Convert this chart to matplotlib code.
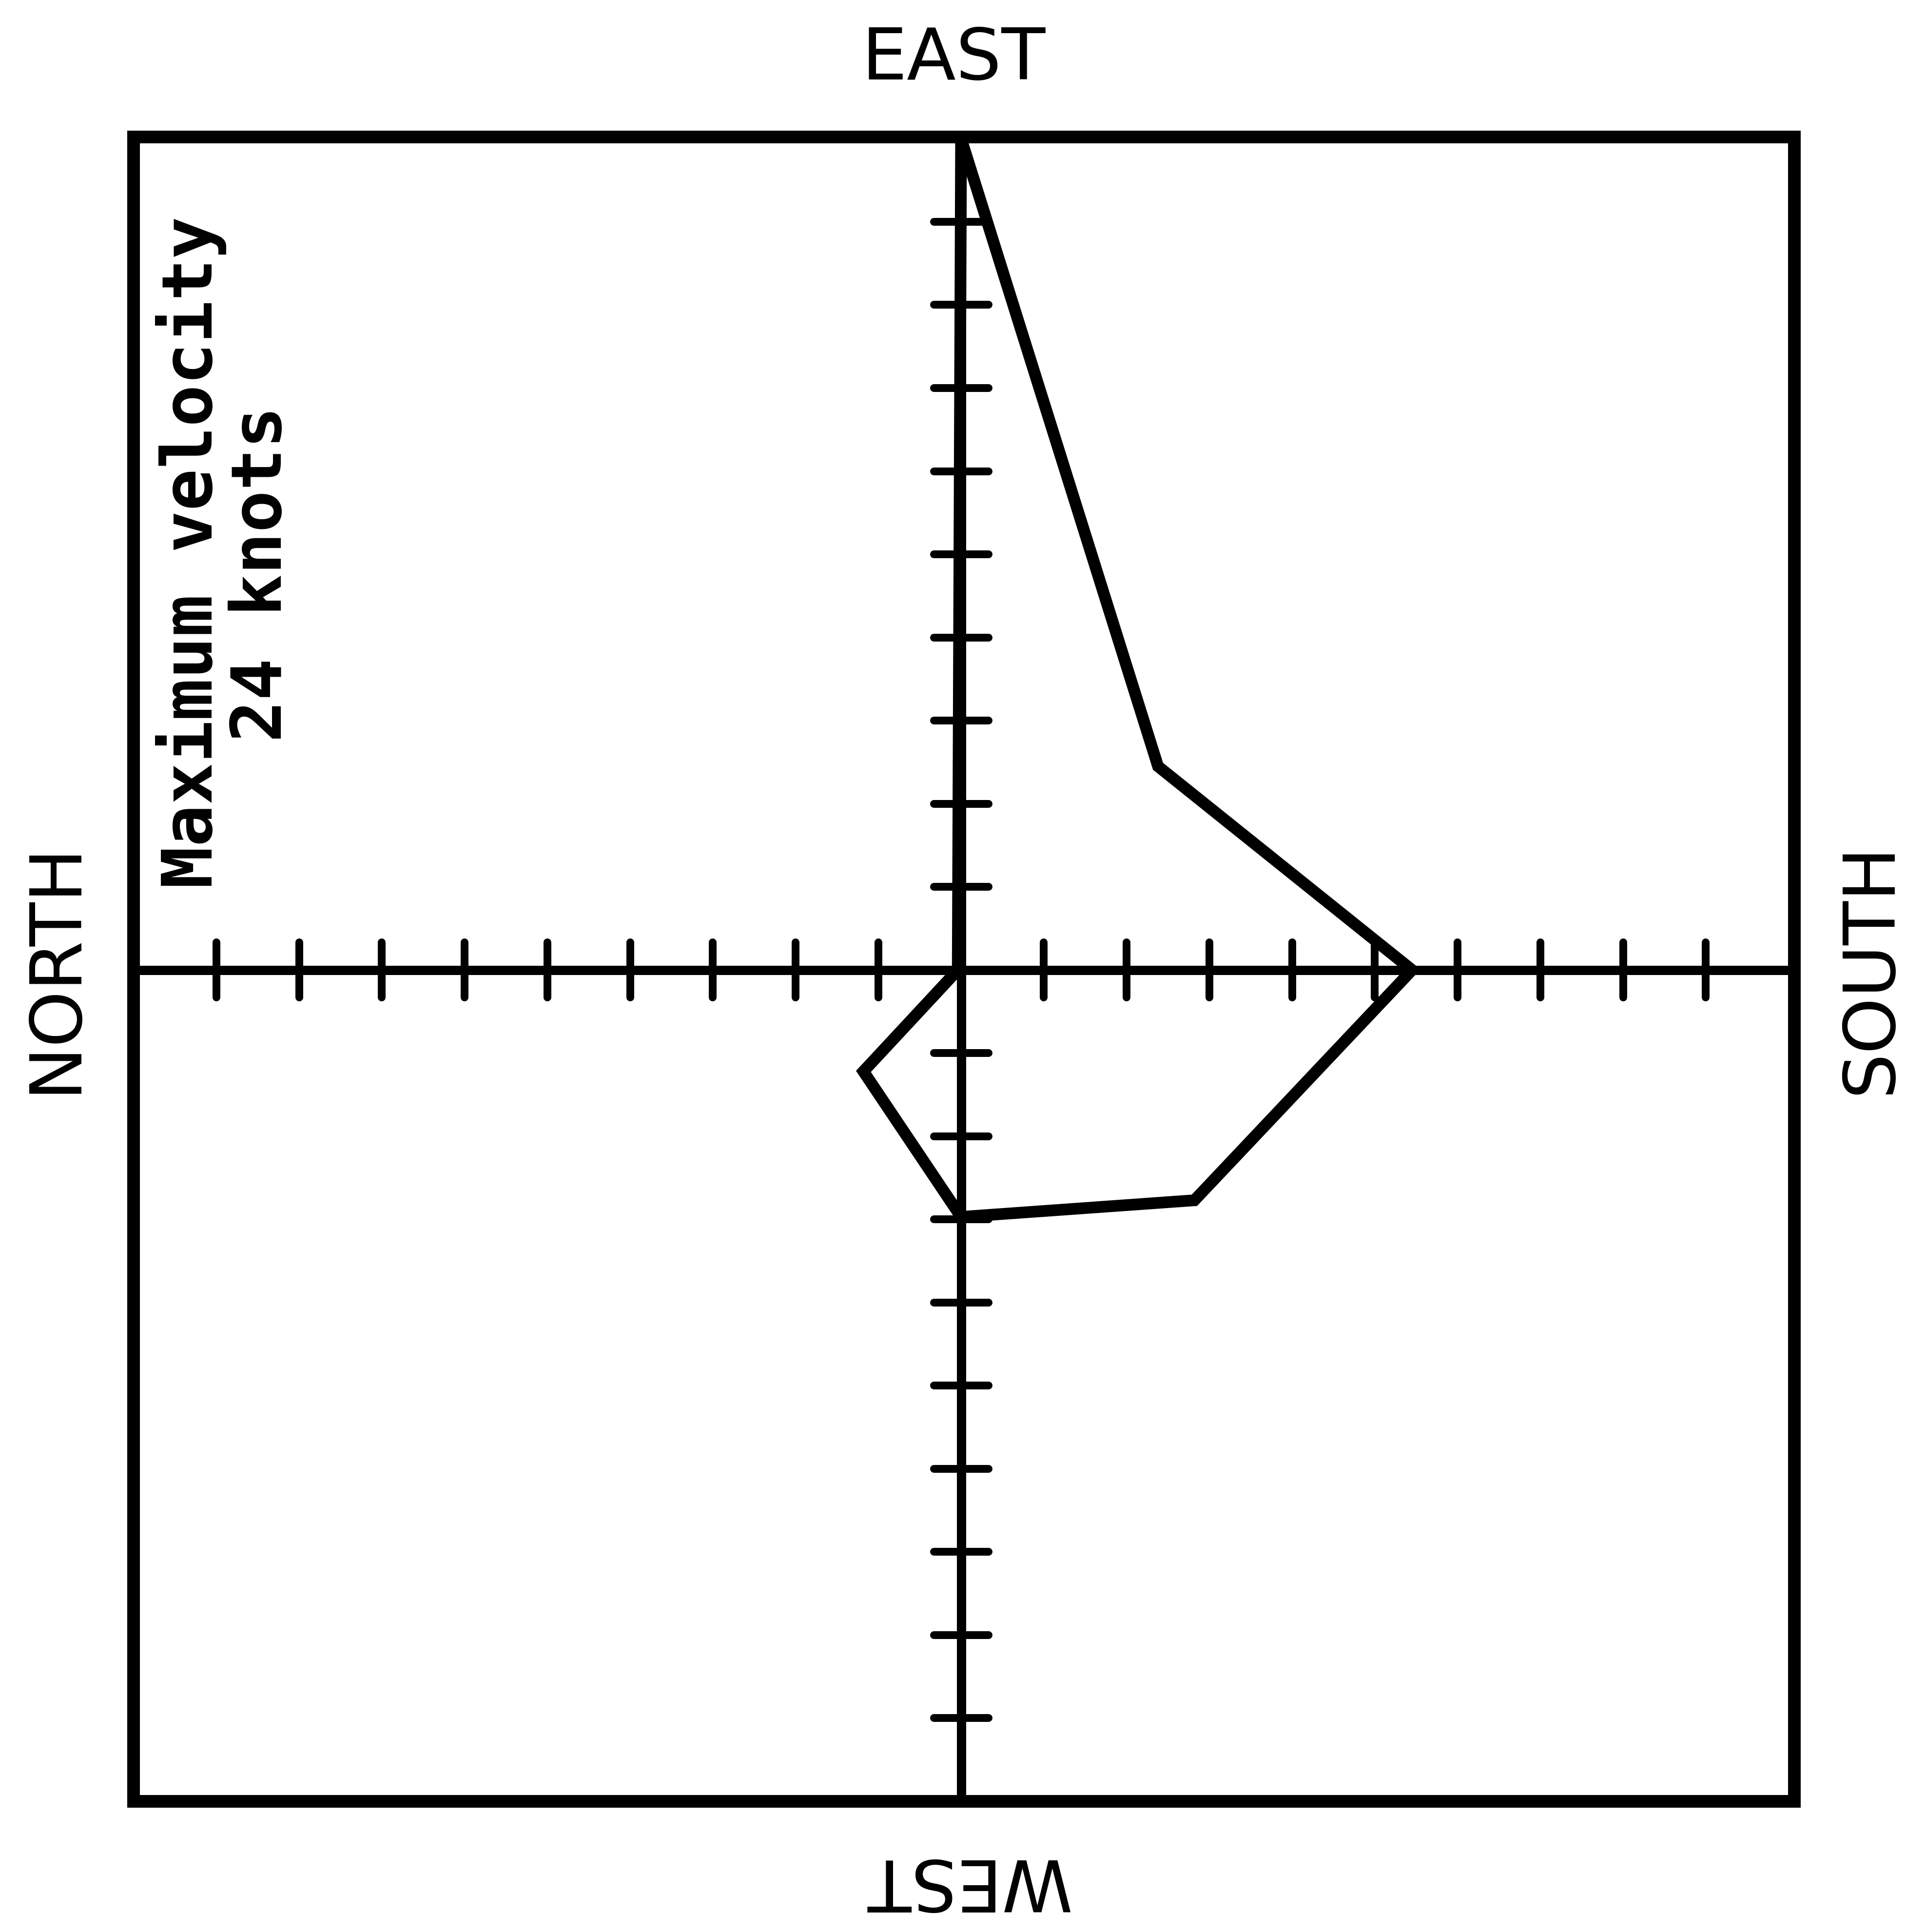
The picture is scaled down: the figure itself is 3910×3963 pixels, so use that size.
import matplotlib
matplotlib.use("Agg")
import matplotlib.pyplot as plt

# ---- data (hodograph, grid units) ----
hodo_x = [-0.04, 0.0, 2.38, 5.45, 2.82, 0.0, -1.18, -0.04]
hodo_y = [0.0, 10.0, 2.45, 0.0, -2.77, -2.97, -1.22, 0.0]
tick_positions = [-9, -8, -7, -6, -5, -4, -3, -2, -1, 1, 2, 3, 4, 5, 6, 7, 8, 9]
label_east = "EAST"
label_west = "WEST"
label_north = "NORTH"
label_south = "SOUTH"
note_line1 = "Maximum velocity"
note_line2 = "24 knots"

W, H = 3910, 3963
DPI = 100
fig = plt.figure(figsize=(W / DPI, H / DPI), dpi=DPI)
fig.patch.set_facecolor("white")

px = 72.0 / DPI  # points per pixel

L, R, T, B = 274, 3681, 281, 3695
ax = fig.add_axes([L / W, 1 - B / H, (R - L) / W, (B - T) / H])
ax.set_xlim(-10, 10.07)
ax.set_ylim(-10, 10.02)
for s in ax.spines.values():
    s.set_linewidth(26 * px)
    s.set_color("black")
    s.set_capstyle("projecting")
ax.set_xticks([])
ax.set_yticks([])

# axes cross
ax.axhline(0, color="black", lw=19 * px, zorder=2)
ax.axvline(0, color="black", lw=19 * px, zorder=2)

# tick marks on the cross
half = 0.33
ax.vlines(tick_positions, -half, half, color="black", lw=16 * px,
          capstyle="round", zorder=2)
ax.hlines(tick_positions, -half, half, color="black", lw=16 * px,
          capstyle="round", zorder=2)

# hodograph
ax.plot(hodo_x, hodo_y, color="black", lw=24 * px,
        solid_joinstyle="miter", solid_capstyle="butt", zorder=3)

def ftxt(x, y, s, **kw):
    fig.text(x / W, 1 - y / H, s, rotation_mode="anchor", **kw)

big = dict(fontsize=106, family="DejaVu Sans", color="black")
ftxt(1956, 163, label_east, ha="center", va="baseline", rotation=0, **big)
ftxt(1981, 3814, label_west, ha="center", va="baseline", rotation=180, **big)
ftxt(154, 1984, label_north, ha="center", va="baseline", rotation=90, **big)
ftxt(3878, 1986, label_south, ha="center", va="baseline", rotation=90, **big)

mono = dict(fontsize=103, family="DejaVu Sans Mono", weight="bold", color="black")
ftxt(435, 1822, note_line1, ha="left", va="baseline", rotation=90, **mono)
ftxt(577, 1522, note_line2, ha="left", va="baseline", rotation=90, **mono)

fig.savefig("out.png", dpi=DPI, facecolor="white")
